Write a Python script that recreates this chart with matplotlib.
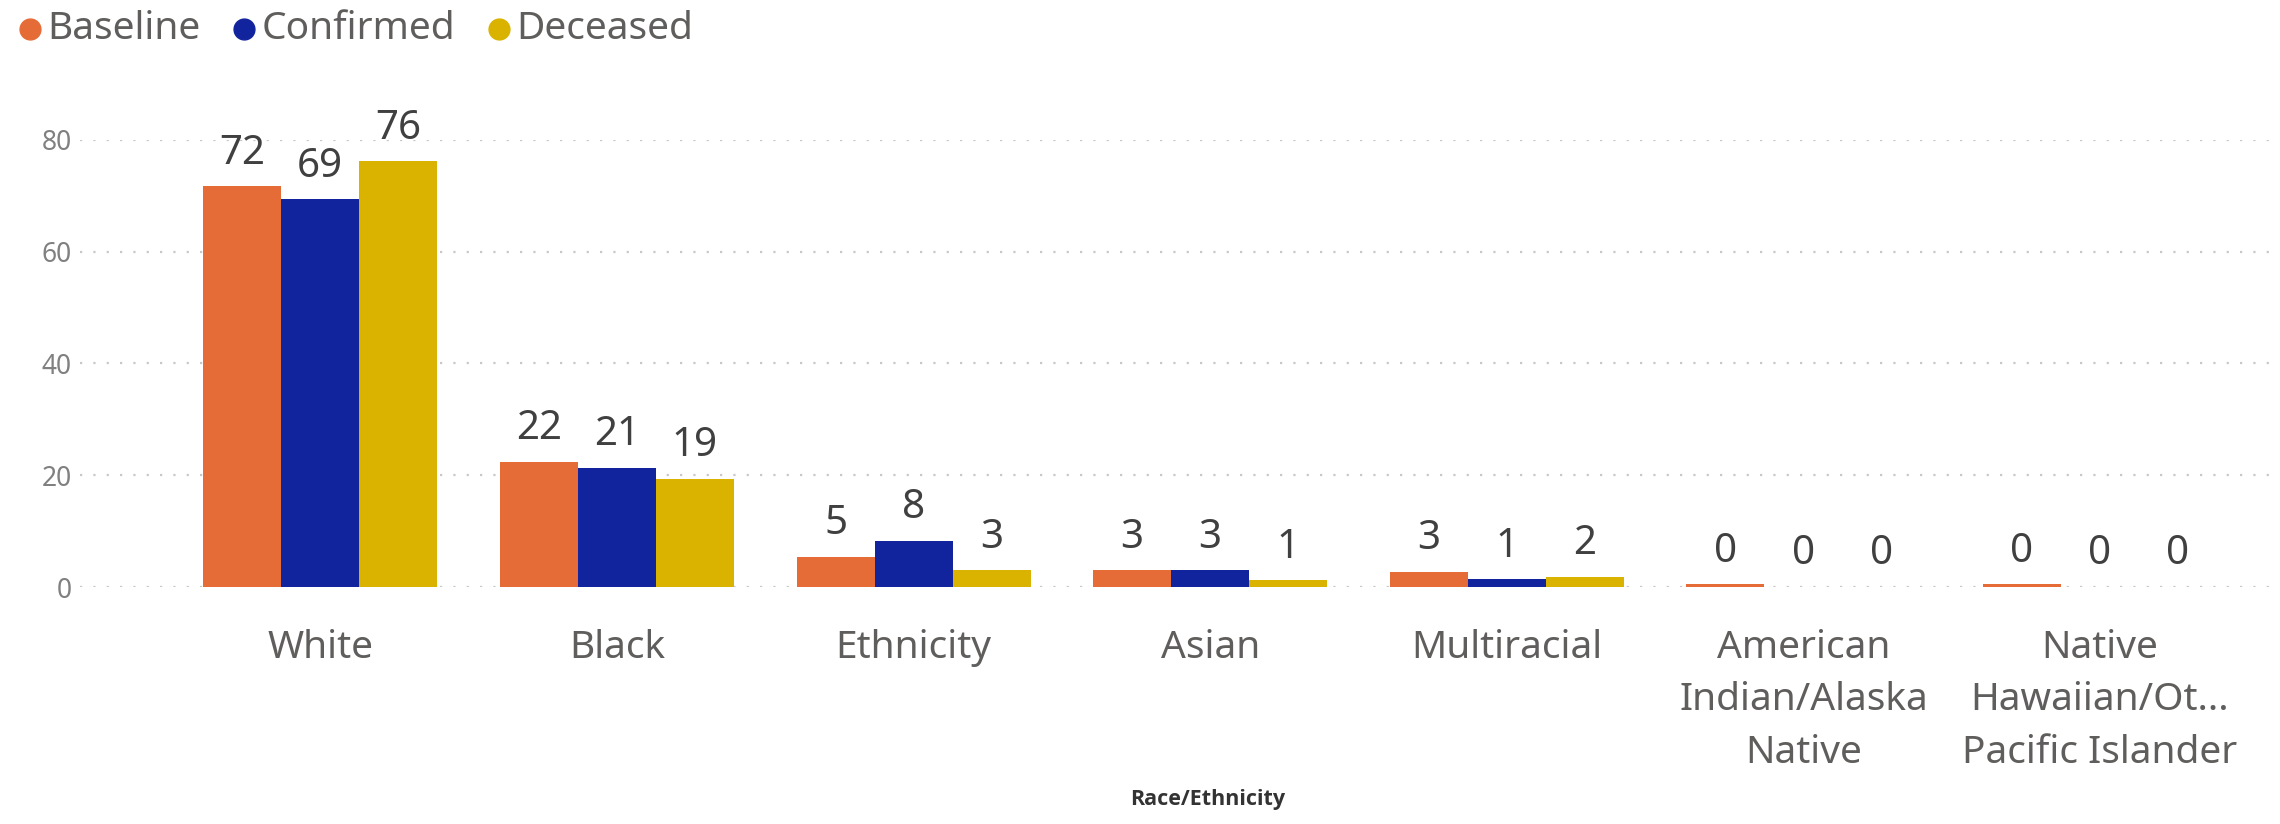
import numpy as np
import matplotlib
matplotlib.use("Agg")
import matplotlib.pyplot as plt

plt.rcParams['font.family'] = ['Noto Sans', 'DejaVu Sans']

categories = ['White', 'Black', 'Ethnicity', 'Asian', 'Multiracial',
              'American\nIndian/Alaska\nNative',
              'Native\nHawaiian/Ot...\nPacific Islander']
series_names = ['Baseline', 'Confirmed', 'Deceased']
baseline = [71.7, 22.4, 5.4, 3.0, 2.7, 0.45, 0.45]
confirmed = [69.4, 21.3, 8.3, 3.0, 1.4, 0.0, 0.0]
deceased = [76.2, 19.4, 3.0, 1.2, 1.8, 0.0, 0.0]
colors = ['#E66C37', '#12239E', '#D9B300']
yticks = [0, 20, 40, 60, 80]

W, H = 2280, 824
fig = plt.figure(figsize=(W / 100, H / 100), dpi=100)
ax = fig.add_axes([80 / W, 1 - 587 / H, (2278 - 80) / W, (587 - 140) / H])

x = np.arange(len(categories))
w = 0.263
for i, (vals, col) in enumerate(zip([baseline, confirmed, deceased], colors)):
    pos = x + (i - 1) * w
    ax.bar(pos, vals, width=w, color=col, zorder=3)
    for px, v in zip(pos, vals):
        ax.annotate(f'{v:.0f}', (px, v), xytext=(0, 9), textcoords='offset points',
                    ha='center', va='bottom', fontsize=29, color='#404040',
                    annotation_clip=False)

ax.set_xlim(-0.81, 6.6)
ax.set_ylim(0, 80)
ax.set_yticks(yticks)
ax.set_yticklabels([str(t) for t in yticks])
ax.set_xticks(x)
ax.set_xticklabels(categories, fontsize=28, color='#605E5C', linespacing=1.5)
ax.tick_params(axis='x', length=0, pad=30)
ax.tick_params(axis='y', length=0, pad=6, labelsize=19, labelcolor='#808080')
ax.grid(axis='y', color='#C8C8C8', linestyle=(0, (1, 5)), linewidth=1.6, zorder=0)
for s in ax.spines.values():
    s.set_visible(False)

fig.text(1208 / W, 1 - 800 / H, 'Race/Ethnicity', ha='center', va='center',
         fontsize=15.5, fontweight='bold', family='Open Sans', color='#333333')

# legend drawn by hand so the spacing follows the original
renderer = fig.canvas.get_renderer()
leg_y = 1 - 29 / H
cx = 30
for name, col in zip(series_names, colors):
    fig.lines.append(plt.Line2D([cx / W], [leg_y], marker='o', markersize=15,
                                color=col, transform=fig.transFigure))
    t = fig.text((cx + 17) / W, leg_y, name, ha='left', va='center',
                 fontsize=28, color='#605E5C')
    cx = t.get_window_extent(renderer).x1 + 44

fig.savefig('out.png', dpi=100)
